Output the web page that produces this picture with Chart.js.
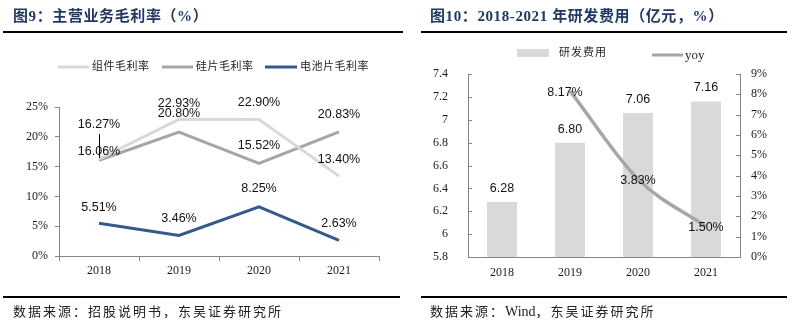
<!DOCTYPE html>
<html>
<head>
<meta charset="utf-8">
<script src="https://cdn.jsdelivr.net/npm/chart.js@4.4.1/dist/chart.umd.min.js"></script>
<style>
  html, body { margin: 0; padding: 0; background: #fff; }
  body { width: 800px; height: 326px; position: relative; overflow: hidden; }
  canvas { position: absolute; top: 0; }
  .title { position: absolute; top: 7px; font: bold 15px "Liberation Serif", "Noto Sans CJK SC", serif; letter-spacing: 0.6px; color: #1F3864; line-height: 18px; white-space: nowrap; z-index: 2; }
  .rule { position: absolute; background: #000; z-index: 2; }
  .src { position: absolute; top: 304px; font: 13px "Liberation Serif", "Noto Sans CJK SC", serif; letter-spacing: 2px; color: #222; line-height: 16px; white-space: nowrap; z-index: 2; }
  .lat { letter-spacing: 0; font-size: 14px; }
</style>
</head>
<body>
<div class="title" style="left:13px">图9：主营业务毛利率（%）</div>
<div class="title" style="left:430px">图10：2018-2021 年研发费用（亿元，%）</div>
<div class="rule" style="left:3px; top:31px; width:400px; height:2px"></div>
<div class="rule" style="left:421px; top:31px; width:366px; height:2px"></div>
<div class="rule" style="left:3px; top:296px; width:397px; height:2px"></div>
<div class="rule" style="left:421px; top:296px; width:366px; height:2px"></div>
<div class="src" style="left:13px">数据来源：招股说明书，东吴证券研究所</div>
<div class="src" style="left:430px">数据来源：<span class="lat">Wind</span>，东吴证券研究所</div>

<canvas id="c1" width="400" height="326" style="left:0px"></canvas>
<canvas id="c2" width="400" height="326" style="left:400px"></canvas>

<script>
// ---------- data ----------
const years = ['2018', '2019', '2020', '2021'];
const moduleMargin = [16.27, 22.93, 22.90, 13.40];   // 组件毛利率
const waferMargin  = [16.06, 20.80, 15.52, 20.83];   // 硅片毛利率
const cellMargin   = [5.51, 3.46, 8.25, 2.63];       // 电池片毛利率
const rdExpense    = [6.28, 6.80, 7.06, 7.16];       // 研发费用（亿元）
const rdYoy        = [null, 8.17, 3.83, 1.50];       // yoy (%)

const AXIS = '#868686';
const TICK_FONT = { family: '"Liberation Serif", serif', size: 12 };
const TICK_COLOR = '#1a1a1a';
const CJK = '"Liberation Serif", "Noto Sans CJK SC", serif';

// ---------- plugins ----------
const manualLegend = {
  id: 'manualLegend',
  afterDraw(chart, args, opts) {
    const ctx = chart.ctx;
    ctx.save();
    (opts.items || []).forEach(it => {
      const ds = chart.data.datasets[it.index];
      if (it.kind === 'box') {
        ctx.fillStyle = ds.backgroundColor;
        ctx.fillRect(it.x, it.y - it.h / 2, it.w, it.h);
      } else {
        ctx.strokeStyle = ds.borderColor;
        ctx.lineWidth = it.lw;
        ctx.beginPath();
        ctx.moveTo(it.x, it.y);
        ctx.lineTo(it.x + it.w, it.y);
        ctx.stroke();
      }
      ctx.font = it.font || opts.font;
      if ('letterSpacing' in ctx) ctx.letterSpacing = it.spacing || opts.spacing || '0px';
      ctx.fillStyle = opts.color;
      ctx.textAlign = 'left';
      ctx.textBaseline = 'middle';
      ctx.fillText(ds.label, it.tx, it.y + 0.5);
    });
    ctx.restore();
  }
};

const pointLabels = {
  id: 'pointLabels',
  afterDatasetsDraw(chart, args, opts) {
    const ctx = chart.ctx;
    ctx.save();
    ctx.font = opts.font;
    ctx.fillStyle = opts.color;
    ctx.textAlign = 'center';
    ctx.textBaseline = 'middle';
    chart.data.datasets.forEach((ds, di) => {
      const meta = chart.getDatasetMeta(di);
      const cfg = opts.sets[di] || {};
      meta.data.forEach((el, i) => {
        const v = ds.data[i];
        if (v === null || v === undefined) return;
        const dx = (cfg.dx && cfg.dx[i]) || 0;
        const dy = (cfg.dy && cfg.dy[i] !== undefined) ? cfg.dy[i] : (cfg.dyDefault || 0);
        const txt = v.toFixed(2) + (cfg.suffix || '');
        const lx = el.x + dx, ly = el.y + dy;
        ctx.fillText(txt, lx, ly);
        if (cfg.leader && cfg.leader[i]) {
          ctx.strokeStyle = '#000';
          ctx.lineWidth = 1;
          ctx.beginPath();
          ctx.moveTo(Math.round(el.x) + 0.5, ly + 9);
          ctx.lineTo(Math.round(el.x) + 0.5, el.y - 1);
          ctx.stroke();
        }
      });
    });
    ctx.restore();
  }
};

const innerTicks = {
  id: 'innerTicks',
  afterDraw(chart, args, opts) {
    const ctx = chart.ctx;
    ctx.save();
    ctx.strokeStyle = AXIS;
    ctx.lineWidth = 1;
    (opts.scales || []).forEach(id => {
      const s = chart.scales[id];
      const dir = s.position === 'left' ? 1 : -1;
      const x0 = s.position === 'left' ? s.right : s.left;
      s.ticks.forEach(t => {
        const y = Math.round(s.getPixelForValue(t.value)) + 0.5;
        ctx.beginPath();
        ctx.moveTo(x0, y);
        ctx.lineTo(x0 + dir * 4, y);
        ctx.stroke();
      });
    });
    ctx.restore();
  }
};

// ---------- chart 1: 主营业务毛利率 ----------
new Chart(document.getElementById('c1'), {
  type: 'line',
  data: {
    labels: years,
    datasets: [
      { label: '组件毛利率', data: moduleMargin, borderColor: '#D9D9D9', backgroundColor: '#D9D9D9', borderWidth: 3, pointRadius: 0, tension: 0 },
      { label: '硅片毛利率', data: waferMargin, borderColor: '#A6A6A6', backgroundColor: '#A6A6A6', borderWidth: 3, pointRadius: 0, tension: 0 },
      { label: '电池片毛利率', data: cellMargin, borderColor: '#35598A', backgroundColor: '#35598A', borderWidth: 3, pointRadius: 0, tension: 0 }
    ]
  },
  options: {
    responsive: false, animation: false, devicePixelRatio: 1,
    layout: { padding: { top: 107, right: 21, bottom: 40, left: 0 } },
    plugins: {
      legend: { display: false },
      tooltip: { enabled: false },
      manualLegend: {
        font: '11px ' + CJK, color: '#262626', spacing: '0.5px',
        items: [
          { index: 0, kind: 'line', x: 58, y: 67, w: 31, lw: 3, tx: 92 },
          { index: 1, kind: 'line', x: 162, y: 67, w: 31, lw: 3, tx: 196 },
          { index: 2, kind: 'line', x: 265, y: 67, w: 32, lw: 3, tx: 300 }
        ]
      },
      pointLabels: {
        font: '12.5px "Liberation Sans", Arial, sans-serif', color: '#111',
        sets: {
          0: { suffix: '%', dyDefault: -17, dy: [-34, -16, -16.5, -17], leader: [true, false, false, false] },
          1: { suffix: '%', dyDefault: -17, dy: [-9, -18, -17.5, -17] },
          2: { suffix: '%', dyDefault: -17, dy: [-16, -17, -18, -17] }
        }
      }
    },
    scales: {
      x: {
        offset: true,
        grid: { display: true, drawOnChartArea: false, offset: true, tickLength: 5, color: AXIS },
        border: { display: true, color: AXIS },
        ticks: { font: TICK_FONT, color: TICK_COLOR, padding: 3, maxRotation: 0 },
        afterFit: s => { s.height = 30; }
      },
      y: {
        min: 0, max: 25,
        grid: { display: true, drawOnChartArea: false, tickLength: 4, color: AXIS },
        border: { display: true, color: AXIS },
        ticks: { stepSize: 5, font: TICK_FONT, color: TICK_COLOR, padding: 7, callback: v => v + '%' },
        afterFit: s => { s.width = 59; }
      }
    }
  },
  plugins: [manualLegend, pointLabels]
});

// ---------- chart 2: 研发费用 ----------
new Chart(document.getElementById('c2'), {
  type: 'bar',
  data: {
    labels: years,
    datasets: [
      { type: 'bar', label: '研发费用', data: rdExpense, yAxisID: 'y', backgroundColor: '#D9D9D9', barPercentage: 0.44, categoryPercentage: 1, order: 1 },
      { type: 'line', label: 'yoy', data: rdYoy, yAxisID: 'y1', borderColor: '#A6A6A6', backgroundColor: '#A6A6A6', borderWidth: 3.5, pointRadius: 0, cubicInterpolationMode: 'monotone', order: 0 }
    ]
  },
  options: {
    responsive: false, animation: false, devicePixelRatio: 1,
    layout: { padding: { top: 74, right: 0, bottom: 39, left: 0 } },
    plugins: {
      legend: { display: false },
      tooltip: { enabled: false },
      manualLegend: {
        font: '11px ' + CJK, color: '#262626', spacing: '1px',
        items: [
          { index: 0, kind: 'box', x: 117, y: 53, w: 32, h: 8, tx: 159 },
          { index: 1, kind: 'line', x: 252, y: 55, w: 31, lw: 3, tx: 285, spacing: '0px', font: '13px "Liberation Serif", serif' }
        ]
      },
      pointLabels: {
        font: '12.5px "Liberation Sans", Arial, sans-serif', color: '#111',
        sets: {
          0: { suffix: '', dyDefault: -13.5 },
          1: { suffix: '%', dyDefault: 1, dx: [0, -5, 0, 0], dy: [0, 2, 1, 1] }
        }
      },
      innerTicks: { scales: ['y', 'y1'] }
    },
    scales: {
      x: {
        grid: { display: true, drawOnChartArea: false, drawTicks: false, color: AXIS },
        border: { display: true, color: AXIS },
        ticks: { font: TICK_FONT, color: TICK_COLOR, padding: 9, maxRotation: 0 },
        afterFit: s => { s.height = 30; }
      },
      y: {
        position: 'left', min: 5.8, max: 7.4,
        grid: { display: true, drawOnChartArea: false, drawTicks: false, color: AXIS },
        border: { display: true, color: AXIS },
        ticks: { stepSize: 0.2, font: TICK_FONT, color: TICK_COLOR, padding: 20, callback: v => String(+(+v).toFixed(1)) },
        afterFit: s => { s.width = 68; }
      },
      y1: {
        position: 'right', min: 0, max: 9,
        grid: { display: true, drawOnChartArea: false, drawTicks: false, color: AXIS },
        border: { display: true, color: AXIS },
        ticks: { stepSize: 1, font: TICK_FONT, color: TICK_COLOR, padding: 11, callback: v => v + '%' },
        afterFit: s => { s.width = 60; }
      }
    }
  },
  plugins: [manualLegend, pointLabels, innerTicks]
});
</script>
</body>
</html>
